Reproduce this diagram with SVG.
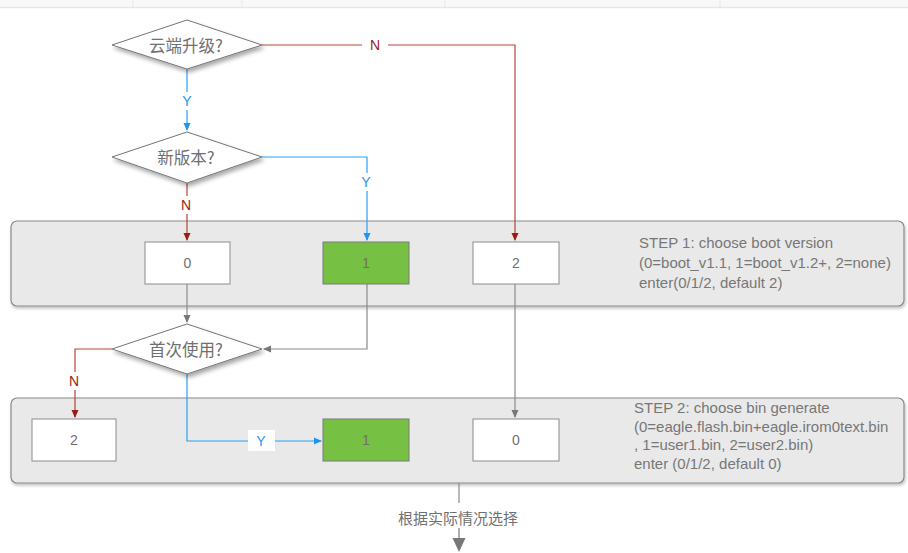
<svg xmlns="http://www.w3.org/2000/svg" width="908" height="553" viewBox="0 0 908 553">
<defs>
<filter id="sh" x="-20%" y="-20%" width="150%" height="160%"><feDropShadow dx="2" dy="3" stdDeviation="2" flood-color="#000" flood-opacity="0.35"/></filter>
<filter id="psh" x="-5%" y="-10%" width="110%" height="130%"><feDropShadow dx="1" dy="2" stdDeviation="1.5" flood-color="#000" flood-opacity="0.25"/></filter>
<marker id="ar" markerWidth="8" markerHeight="8" refX="7" refY="4" orient="auto" markerUnits="userSpaceOnUse"><path d="M0,0.5 L8,4 L0,7.5 Z" fill="#9b1c10"/></marker>
<marker id="ab" markerWidth="8" markerHeight="8" refX="7" refY="4" orient="auto" markerUnits="userSpaceOnUse"><path d="M0,0.5 L8,4 L0,7.5 Z" fill="#1a96f5"/></marker>
<marker id="ag" markerWidth="8" markerHeight="8" refX="7" refY="4" orient="auto" markerUnits="userSpaceOnUse"><path d="M0,0.5 L8,4 L0,7.5 Z" fill="#777"/></marker>
<style>
.dia{fill:#fff;stroke:#777;stroke-width:1;filter:url(#sh)}
.panel{fill:#e9e9e9;stroke:#8a8a8a;stroke-width:1.2;filter:url(#psh)}
.box{fill:#fff;stroke:#8c8c8c;stroke-width:1}
.gbox{fill:#76c043;stroke:#7a7a7a;stroke-width:1}
.t{font-family:"Liberation Sans","Noto Sans CJK SC",sans-serif;fill:#707070;font-size:14px;text-anchor:middle;dominant-baseline:central}
.cjk{font-family:"Noto Sans CJK SC","Liberation Sans",sans-serif;fill:#707070;font-size:16.5px;text-anchor:middle;dominant-baseline:central}
.note{font-family:"Liberation Sans",sans-serif;fill:#777;font-size:15px}
.red{stroke:#b5443a;stroke-width:1.2;fill:none}
.blue{stroke:#2aa0f5;stroke-width:1.2;fill:none}
.gray{stroke:#8a8a8a;stroke-width:1.2;fill:none}
.lr{font-family:"Liberation Sans",sans-serif;font-size:14px;fill:#9b1c10;text-anchor:middle;dominant-baseline:central}
.lb{font-family:"Liberation Sans",sans-serif;font-size:14px;fill:#1a96f5;text-anchor:middle;dominant-baseline:central}
</style>
</defs>
<rect x="0" y="0" width="908" height="553" fill="#fff"/>
<g id="topbar">
<rect x="0" y="0" width="908" height="7" fill="#f8f8f8"/>
<line x1="0" y1="7.5" x2="908" y2="7.5" stroke="#e6e6e6" stroke-width="1.5"/>
<line x1="133" y1="0" x2="133" y2="7" stroke="#e8e8e8"/>
<line x1="242" y1="0" x2="242" y2="7" stroke="#e8e8e8"/>
<line x1="445" y1="0" x2="445" y2="7" stroke="#e8e8e8"/>
<line x1="720" y1="0" x2="720" y2="7" stroke="#e8e8e8"/>
</g>
<g id="panel1">
<rect class="panel" x="11" y="221" width="893" height="85" rx="6"/>
<text class="note" x="639" y="248">STEP 1: choose boot version</text>
<text class="note" x="639" y="268">(0=boot_v1.1, 1=boot_v1.2+, 2=none)</text>
<text class="note" x="639" y="288">enter(0/1/2, default 2)</text>
</g>
<g id="panel2">
<rect class="panel" x="11" y="398" width="893" height="85" rx="6"/>
<text class="note" x="634" y="413">STEP 2: choose bin generate</text>
<text class="note" x="634" y="432">(0=eagle.flash.bin+eagle.irom0text.bin</text>
<text class="note" x="634" y="450">, 1=user1.bin, 2=user2.bin)</text>
<text class="note" x="634" y="469">enter (0/1/2, default 0)</text>
</g>
<g id="connectors">
<path class="red" d="M262,45 H515 V240" marker-end="url(#ar)"/>
<rect x="362" y="36" width="26" height="18" fill="#fff"/>
<text class="lr" x="375" y="45">N</text>
<path class="blue" d="M187,69 V130" marker-end="url(#ab)"/>
<rect x="178" y="92" width="18" height="18" fill="#fff"/>
<text class="lb" x="187" y="101">Y</text>
<path class="blue" d="M262,157 H367 V240" marker-end="url(#ab)"/>
<rect x="358" y="173" width="18" height="18" fill="#fff"/>
<text class="lb" x="366" y="182">Y</text>
<path class="red" d="M187,183 V240" marker-end="url(#ar)"/>
<rect x="178" y="196" width="18" height="18" fill="#fff"/>
<text class="lr" x="186" y="205">N</text>
<path class="gray" d="M187,284 V322" marker-end="url(#ag)"/>
<path class="gray" d="M367,284 V349 H264" marker-end="url(#ag)"/>
<path class="red" d="M112,349 H75 V417" marker-end="url(#ar)"/>
<rect x="66" y="372" width="18" height="18" fill="#fff"/>
<text class="lr" x="74" y="381">N</text>
<path class="blue" d="M187,374 V441 H321" marker-end="url(#ab)"/>
<rect x="248" y="430" width="27" height="21" fill="#fff"/>
<text class="lb" x="261" y="441">Y</text>
<path class="gray" d="M515,284 V417" marker-end="url(#ag)"/>
<path class="gray" d="M459,483 V503"/>
<path d="M459,528 V540" stroke="#777" stroke-width="1.2"/>
<path d="M452.5,538 L465.5,538 L459,552 Z" fill="#777"/>
<text class="cjk" x="458" y="517" style="font-size:15px">根据实际情况选择</text>
</g>
<g id="d1">
<polygon class="dia" points="187,20 262,45 187,69 112,45"/>
<text class="cjk" x="186" y="45">云端升级?</text>
</g>
<g id="d2">
<polygon class="dia" points="187,132 262,157 187,183 112,157"/>
<text class="cjk" x="186" y="157">新版本?</text>
</g>
<g id="d3">
<polygon class="dia" points="187,324 262,349 187,374 112,349"/>
<text class="cjk" x="186" y="349">首次使用?</text>
</g>
<g id="s1b0"><rect class="box" x="145" y="242" width="85" height="42"/><text class="t" x="187.5" y="263">0</text></g>
<g id="s1b1"><rect class="gbox" x="323" y="242" width="86" height="42"/><text class="t" x="366" y="263">1</text></g>
<g id="s1b2"><rect class="box" x="473" y="242" width="86" height="42"/><text class="t" x="516" y="263">2</text></g>
<g id="s2b2"><rect class="box" x="32" y="419" width="84" height="42"/><text class="t" x="74" y="440">2</text></g>
<g id="s2b1"><rect class="gbox" x="323" y="419" width="86" height="42"/><text class="t" x="366" y="440">1</text></g>
<g id="s2b0"><rect class="box" x="473" y="419" width="86" height="42"/><text class="t" x="516" y="440">0</text></g>
</svg>
